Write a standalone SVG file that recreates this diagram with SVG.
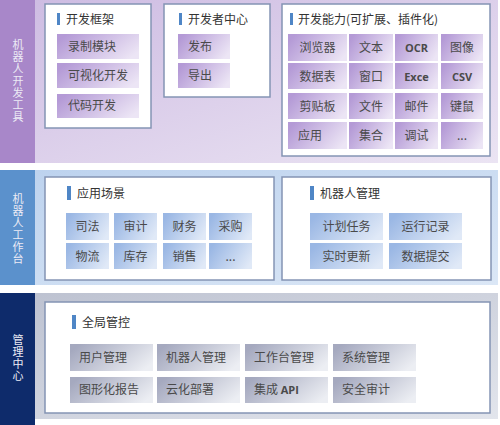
<svg xmlns="http://www.w3.org/2000/svg" width="500" height="425" viewBox="0 0 500 425">
<defs>
<linearGradient id="bgP" x1="0" y1="0" x2="1" y2="1"><stop offset="0" stop-color="#cdbbe2"/><stop offset="1" stop-color="#ebe4f3"/></linearGradient>
<linearGradient id="bgB" x1="0" y1="0" x2="1" y2="1"><stop offset="0" stop-color="#bcd2ee"/><stop offset="1" stop-color="#dbe7f6"/></linearGradient>
<linearGradient id="bgG" x1="0" y1="0" x2="1" y2="1"><stop offset="0" stop-color="#bcc1d0"/><stop offset="1" stop-color="#e2e5ec"/></linearGradient>
<linearGradient id="btP" x1="0" y1="0.3" x2="1" y2="0.7"><stop offset="0" stop-color="#b49ad6"/><stop offset="1" stop-color="#ece5f5"/></linearGradient>
<linearGradient id="btB" x1="0" y1="0.3" x2="1" y2="0.7"><stop offset="0" stop-color="#9ab7e4"/><stop offset="1" stop-color="#e0e9f7"/></linearGradient>
<linearGradient id="btG" x1="0" y1="0.3" x2="1" y2="0.7"><stop offset="0" stop-color="#a5a9bf"/><stop offset="1" stop-color="#eceef3"/></linearGradient>
</defs>
<style>
text{font-family:"Noto Sans CJK SC","Noto Sans",sans-serif;}
.panel{fill:#ffffff;stroke:#8494b4;stroke-width:1.5;}
.bar{fill:#4f86c6;}
.ttl{font-size:12px;fill:#333;}
.bt{font-size:12px;fill:#4a4a4a;}
.btc{font-size:12px;fill:#4a4a4a;text-anchor:middle;}
.lat{font-weight:bold;font-family:"Open Sans","DejaVu Sans",sans-serif;font-size:11px;}
.side{font-size:11px;fill:#ecebf5;text-anchor:middle;writing-mode:vertical-rl;letter-spacing:1px;}
.bP{fill:url(#btP);}
.bB{fill:url(#btB);}
.bG{fill:url(#btG);}
</style>
<rect width="500" height="425" fill="#ffffff"/>

<g id="layer-dev">
<rect x="0" y="0" width="498" height="163" fill="url(#bgP)"/>
<rect x="0" y="0" width="35" height="163" fill="#a887c9"/>
<text class="side" x="18" y="81">机器人开发工具</text>
</g>

<g id="panel-framework">
<rect class="panel" x="45" y="4" width="106" height="124"/>
<rect class="bar" x="57" y="13" width="3" height="12"/>
<text class="ttl" x="66" y="24">开发框架</text>
<rect class="bP" x="57" y="34" width="82" height="25"/><text class="bt" x="68" y="51">录制模块</text>
<rect class="bP" x="57" y="63" width="82" height="25"/><text class="bt" x="68" y="80">可视化开发</text>
<rect class="bP" x="57" y="94" width="82" height="24"/><text class="bt" x="68" y="110">代码开发</text>
</g>

<g id="panel-devcenter">
<rect class="panel" x="164" y="4" width="106" height="93"/>
<rect class="bar" x="179" y="13" width="3" height="12"/>
<text class="ttl" x="188" y="24">开发者中心</text>
<rect class="bP" x="178" y="34" width="52" height="25"/><text class="bt" x="188" y="51">发布</text>
<rect class="bP" x="178" y="63" width="52" height="25"/><text class="bt" x="188" y="80">导出</text>
</g>

<g id="panel-ability">
<rect class="panel" x="282" y="4" width="208" height="152"/>
<rect class="bar" x="290" y="13" width="3" height="12"/>
<text class="ttl" x="298" y="24">开发能力(可扩展、插件化)</text>
<rect class="bP" x="288" y="34" width="59" height="27"/><text class="btc" x="317.5" y="52">浏览器</text>
<rect class="bP" x="349" y="34" width="44" height="27"/><text class="btc" x="371" y="52">文本</text>
<rect class="bP" x="395" y="34" width="43" height="27"/><text class="btc lat" x="416.5" y="52">OCR</text>
<rect class="bP" x="441" y="34" width="42" height="27"/><text class="btc" x="462" y="52">图像</text>
<rect class="bP" x="288" y="63" width="59" height="26"/><text class="btc" x="317.5" y="81">数据表</text>
<rect class="bP" x="349" y="63" width="44" height="26"/><text class="btc" x="371" y="81">窗口</text>
<rect class="bP" x="395" y="63" width="43" height="26"/><text class="btc lat" x="416.5" y="81">Exce</text>
<rect class="bP" x="441" y="63" width="42" height="26"/><text class="btc lat" x="462" y="81">CSV</text>
<rect class="bP" x="288" y="93" width="59" height="26"/><text class="btc" x="317.5" y="111">剪贴板</text>
<rect class="bP" x="349" y="93" width="44" height="26"/><text class="btc" x="371" y="111">文件</text>
<rect class="bP" x="395" y="93" width="43" height="26"/><text class="btc" x="416.5" y="111">邮件</text>
<rect class="bP" x="441" y="93" width="42" height="26"/><text class="btc" x="462" y="111">键鼠</text>
<rect class="bP" x="288" y="122" width="59" height="27"/><text class="btc" x="310" y="140">应用</text>
<rect class="bP" x="349" y="122" width="44" height="27"/><text class="btc" x="371" y="140">集合</text>
<rect class="bP" x="395" y="122" width="43" height="27"/><text class="btc" x="416.5" y="140">调试</text>
<rect class="bP" x="441" y="122" width="42" height="27"/><text class="btc" x="462" y="140">...</text>
</g>

<g id="layer-work">
<rect x="0" y="170" width="498" height="115" fill="url(#bgB)"/>
<rect x="0" y="170" width="35" height="115" fill="#5b91cc"/>
<text class="side" x="18" y="229">机器人工作台</text>
</g>

<g id="panel-scenes">
<rect class="panel" x="45" y="177" width="229" height="103"/>
<rect class="bar" x="67" y="186" width="4" height="14"/>
<text class="ttl" x="77" y="198">应用场景</text>
<rect class="bB" x="66" y="213" width="43" height="27"/><text class="btc" x="87.5" y="231">司法</text>
<rect class="bB" x="114" y="213" width="43" height="27"/><text class="btc" x="135.5" y="231">审计</text>
<rect class="bB" x="163" y="213" width="43" height="27"/><text class="btc" x="184.5" y="231">财务</text>
<rect class="bB" x="209" y="213" width="43" height="27"/><text class="btc" x="230.5" y="231">采购</text>
<rect class="bB" x="66" y="243" width="43" height="26"/><text class="btc" x="87.5" y="261">物流</text>
<rect class="bB" x="114" y="243" width="43" height="26"/><text class="btc" x="135.5" y="261">库存</text>
<rect class="bB" x="163" y="243" width="43" height="26"/><text class="btc" x="184.5" y="261">销售</text>
<rect class="bB" x="209" y="243" width="43" height="26"/><text class="btc" x="230.5" y="261">...</text>
</g>

<g id="panel-robotmgmt">
<rect class="panel" x="282" y="177" width="209" height="103"/>
<rect class="bar" x="310" y="186" width="4" height="14"/>
<text class="ttl" x="320" y="198">机器人管理</text>
<rect class="bB" x="310" y="213" width="73" height="27"/><text class="btc" x="346.5" y="231">计划任务</text>
<rect class="bB" x="389" y="213" width="73" height="27"/><text class="btc" x="425.5" y="231">运行记录</text>
<rect class="bB" x="310" y="243" width="73" height="26"/><text class="btc" x="346.5" y="261">实时更新</text>
<rect class="bB" x="389" y="243" width="73" height="26"/><text class="btc" x="425.5" y="261">数据提交</text>
</g>

<g id="layer-mgmt">
<rect x="0" y="293" width="498" height="126" fill="url(#bgG)"/>
<rect x="0" y="293" width="35" height="132" fill="#0e2b6b"/>
<text class="side" x="18" y="358">管理中心</text>
</g>

<g id="panel-global">
<rect class="panel" x="45" y="302" width="445" height="111"/>
<rect class="bar" x="72" y="315" width="4" height="14"/>
<text class="ttl" x="82" y="327">全局管控</text>
<rect class="bG" x="70" y="344" width="83" height="27"/><text class="bt" x="79" y="362">用户管理</text>
<rect class="bG" x="157" y="344" width="83" height="27"/><text class="bt" x="166" y="362">机器人管理</text>
<rect class="bG" x="245" y="344" width="83" height="27"/><text class="bt" x="254" y="362">工作台管理</text>
<rect class="bG" x="333" y="344" width="83" height="27"/><text class="bt" x="342" y="362">系统管理</text>
<rect class="bG" x="70" y="377" width="83" height="26"/><text class="bt" x="79" y="394">图形化报告</text>
<rect class="bG" x="157" y="377" width="83" height="26"/><text class="bt" x="166" y="394">云化部署</text>
<rect class="bG" x="245" y="377" width="83" height="26"/><text class="bt" x="254" y="394">集成 <tspan class="lat">API</tspan></text>
<rect class="bG" x="333" y="377" width="83" height="26"/><text class="bt" x="342" y="394">安全审计</text>
</g>
</svg>
